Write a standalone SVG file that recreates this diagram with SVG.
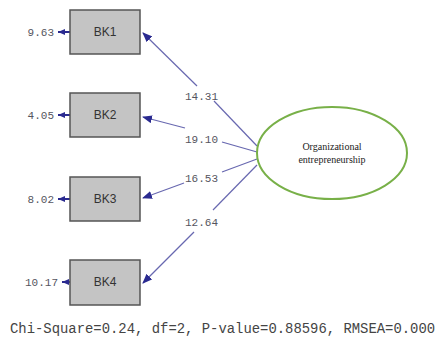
<svg xmlns="http://www.w3.org/2000/svg" width="438" height="344" viewBox="0 0 438 344">
  <style>
    .box { fill: #c4c4c4; stroke: #555555; stroke-width: 1.5; }
    .var { font-family: "Liberation Sans", Arial, sans-serif; font-size: 12px; fill: #333333; text-anchor: middle; }
    .num { font-family: "Liberation Mono", "Courier New", monospace; font-size: 11px; fill: #555560; }
    .err { font-family: "Liberation Mono", "Courier New", monospace; font-size: 11px; fill: #555560; text-anchor: end; }
    .edge { stroke: #6868b0; stroke-width: 1.2; fill: none; }
    .errline { stroke: #2a2a90; stroke-width: 2; fill: none; }
    .lat { fill: #ffffff; stroke: #78b048; stroke-width: 2; }
    .latxt { font-family: "Liberation Serif", "Times New Roman", serif; font-size: 10px; fill: #222222; text-anchor: middle; }
    .fit { font-family: "Liberation Mono", "Courier New", monospace; font-size: 13.9px; fill: #444444; }
  </style>
  <defs>
    <marker id="head" markerWidth="10" markerHeight="8" refX="9" refY="4" orient="auto" markerUnits="userSpaceOnUse">
      <path d="M0,0 L10,4 L0,8 Z" fill="#2a2a90"/>
    </marker>
    <marker id="ehead" markerWidth="7" markerHeight="6" refX="7" refY="3" orient="auto" markerUnits="userSpaceOnUse">
      <path d="M0,0 L7,3 L0,6 Z" fill="#2a2a90"/>
    </marker>
  </defs>

  <rect width="438" height="344" fill="#ffffff"/>

  <!-- paths from the latent factor to indicators, broken around their loadings -->
  <g id="connectors">
    <line class="edge" x1="197" y1="86" x2="143" y2="33" marker-end="url(#head)"/>
    <line class="edge" x1="257" y1="146" x2="214" y2="101"/>
    <line class="edge" x1="185" y1="128" x2="143" y2="117" marker-end="url(#head)"/>
    <line class="edge" x1="257" y1="152" x2="222" y2="142"/>
    <line class="edge" x1="184" y1="183" x2="143" y2="198" marker-end="url(#head)"/>
    <line class="edge" x1="257" y1="159" x2="222" y2="172"/>
    <line class="edge" x1="194" y1="232" x2="143" y2="283" marker-end="url(#head)"/>
    <line class="edge" x1="257" y1="165" x2="213" y2="210"/>

    <line class="errline" x1="70" y1="32" x2="58" y2="32" marker-end="url(#ehead)"/>
    <line class="errline" x1="70" y1="115" x2="58" y2="115" marker-end="url(#ehead)"/>
    <line class="errline" x1="70" y1="199" x2="58" y2="199" marker-end="url(#ehead)"/>
    <line class="errline" x1="70" y1="282" x2="62" y2="282" marker-end="url(#ehead)"/>
  </g>

  <g id="loadings">
    <text class="num" x="185" y="100">14.31</text>
    <text class="num" x="185" y="143">19.10</text>
    <text class="num" x="185" y="182">16.53</text>
    <text class="num" x="185" y="226">12.64</text>
  </g>

  <g id="BK1">
    <rect class="box" x="70" y="10" width="70" height="44"/>
    <text class="var" x="105" y="36">BK1</text>
    <text class="err" x="54" y="35.5">9.63</text>
  </g>
  <g id="BK2">
    <rect class="box" x="70" y="93" width="70" height="44"/>
    <text class="var" x="105" y="119">BK2</text>
    <text class="err" x="54" y="118.5">4.05</text>
  </g>
  <g id="BK3">
    <rect class="box" x="70" y="177" width="70" height="44"/>
    <text class="var" x="105" y="203">BK3</text>
    <text class="err" x="54" y="202.5">8.02</text>
  </g>
  <g id="BK4">
    <rect class="box" x="70" y="260" width="70" height="45"/>
    <text class="var" x="105" y="286">BK4</text>
    <text class="err" x="58" y="285.5">10.17</text>
  </g>

  <g id="OrganizationalEntrepreneurship">
    <ellipse class="lat" cx="332" cy="153" rx="75" ry="46"/>
    <text class="latxt" x="332" y="150">Organizational</text>
    <text class="latxt" x="332" y="163">entrepreneurship</text>
  </g>

  <text class="fit" x="10" y="333">Chi-Square=0.24, df=2, P-value=0.88596, RMSEA=0.000</text>
</svg>
